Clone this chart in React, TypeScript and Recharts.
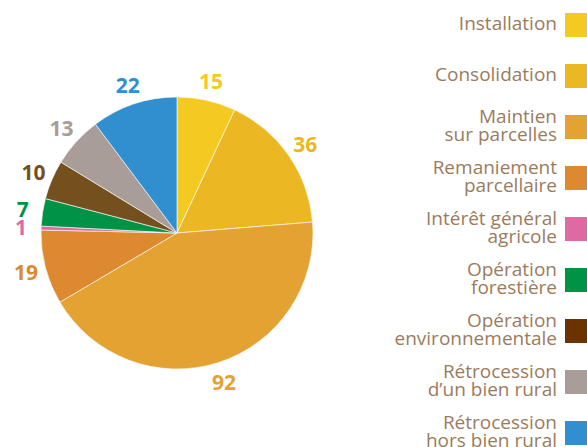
import { Cell, Legend, Pie, PieChart } from "recharts";

const categories = [
  "Installation",
  "Consolidation",
  "Maintien\nsur parcelles",
  "Remaniement\nparcellaire",
  "Intérêt général\nagricole",
  "Opération\nforestière",
  "Opération\nenvironnementale",
  "Rétrocession\nd’un bien rural",
  "Rétrocession\nhors bien rural",
];
const values = [15, 36, 92, 19, 1, 7, 10, 13, 22];
const sliceColors = ["#f4ca22", "#ebb823", "#e4a232", "#dc8930", "#df6aa3", "#009245", "#75501f", "#a89d98", "#318fd0"];
const legendColors = ["#f4ca22", "#ebb823", "#e4a232", "#dc8930", "#df6aa3", "#009245", "#6b3300", "#a89d98", "#318fd0"];

const data = categories.map((name, i) => ({ name, value: values[i] }));

const RAD = Math.PI / 180;

function renderLabel(props: any) {
  const { cx, cy, midAngle, outerRadius, index } = props;
  const r = outerRadius + 20;
  const x = cx + r * Math.cos(-midAngle * RAD);
  const y = cy + r * Math.sin(-midAngle * RAD);
  return (
    <text
      x={x}
      y={y}
      fill={sliceColors[index]}
      textAnchor="middle"
      dominantBaseline="central"
      fontFamily="Open Sans"
      fontWeight={700}
      fontSize={21}
    >
      {values[index]}
    </text>
  );
}

function LegendBox() {
  return (
    <div style={{ position: "relative", width: 220, height: 447 }}>
      {categories.map((name, i) => {
        const lines = name.split("\n");
        return (
          <div
            key={name}
            style={{ position: "absolute", right: 0, top: 12.5 + i * 51, height: 24, display: "flex", alignItems: "center" }}
          >
            <div
              style={{
                textAlign: "right",
                fontFamily: "Open Sans",
                fontSize: 19,
                lineHeight: "18px",
                color: "#9b7b5e",
                marginRight: 8,
                whiteSpace: "nowrap",
                position: "relative",
                top: -2,
              }}
            >
              {lines.map((l) => (
                <div key={l}>{l}</div>
              ))}
            </div>
            <div style={{ width: 24, height: 24, background: legendColors[i], marginRight: -2 }} />
          </div>
        );
      })}
    </div>
  );
}

export default function App() {
  return (
    <div style={{ position: "absolute", left: 0, top: 0, background: "#fff", overflow: "hidden" }}>
      <PieChart width={587} height={447} margin={{ top: 0, right: 0, bottom: 0, left: 0 }}>
        <Pie
          data={data}
          dataKey="value"
          cx={177}
          cy={233}
          outerRadius={136}
          startAngle={90}
          endAngle={-270}
          stroke="#ffffff"
          strokeWidth={0.6}
          label={renderLabel}
          labelLine={false}
          isAnimationActive={false}
        >
          {data.map((d, i) => (
            <Cell key={d.name} fill={sliceColors[i]} />
          ))}
        </Pie>
        <Legend
          layout="vertical"
          align="right"
          verticalAlign="top"
          content={() => <LegendBox />}
          wrapperStyle={{ top: 0, right: 0, width: 220, height: 447 }}
        />
      </PieChart>
    </div>
  );
}
